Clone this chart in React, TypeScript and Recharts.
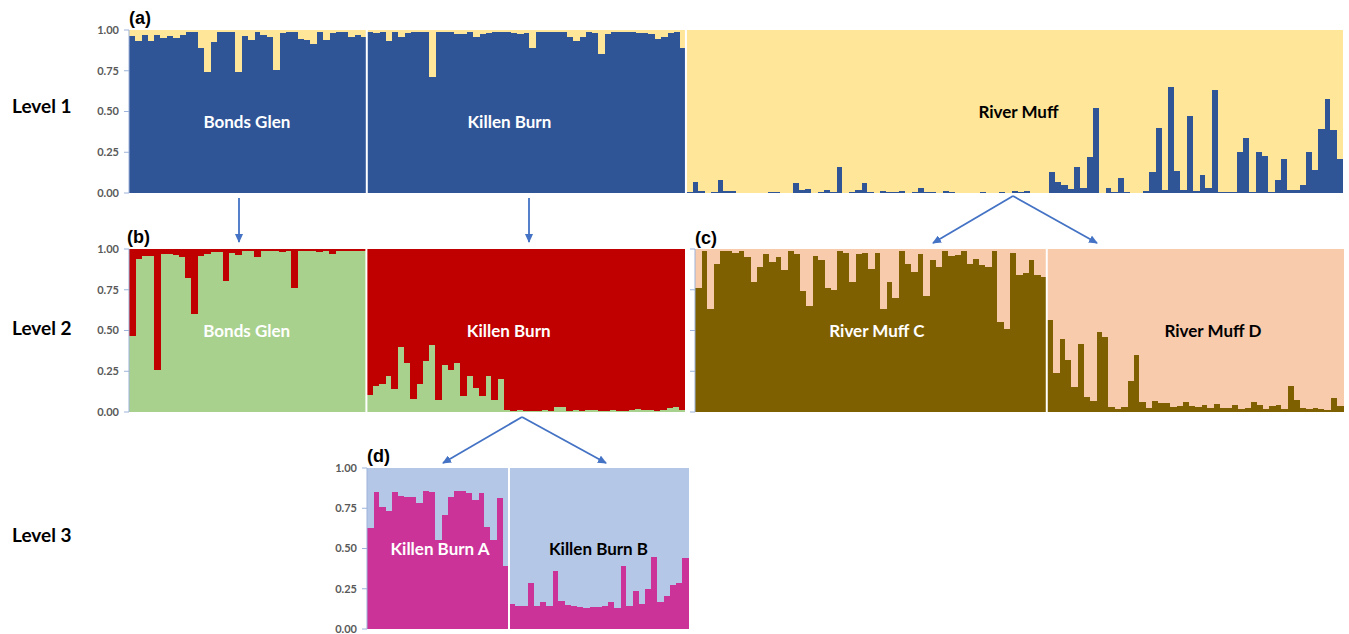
import React from "react";
import { BarChart, Bar, XAxis, YAxis, ReferenceLine } from "recharts";

const TICKS = [0, 0.25, 0.5, 0.75, 1];
const AXIS = "#9DB3DC";
const ARROW = "#4472C4";

// level 1 (a): share of the blue cluster per individual
const bondsGlenL1 = [0.965, 0.93, 0.97, 0.93, 0.97, 0.95, 0.965, 0.95, 0.97, 0.99, 0.985, 0.89, 0.745, 0.925, 0.99, 0.99, 0.99, 0.74, 0.965, 0.94, 0.99, 0.97, 0.96, 0.755, 0.98, 0.985, 0.99, 0.945, 0.94, 0.915, 0.99, 0.94, 0.98, 0.985, 0.985, 0.96, 0.97, 0.96];
const killenBurnL1 = [0.99, 0.98, 0.985, 0.935, 0.985, 0.955, 0.98, 0.99, 0.99, 0.985, 0.71, 0.99, 0.99, 0.99, 0.975, 0.975, 0.99, 0.955, 0.975, 0.98, 0.985, 0.99, 0.99, 0.98, 0.975, 0.98, 0.89, 0.985, 0.985, 0.99, 0.985, 0.985, 0.955, 0.93, 0.955, 0.985, 0.98, 0.855, 0.975, 0.985, 0.99, 0.99, 0.99, 0.98, 0.98, 0.975, 0.945, 0.96, 0.98, 0.99, 0.89];
const riverMuffL1 = [0.005, 0.07, 0.01, 0.002, 0.006, 0.08, 0.015, 0.01, 0.002, 0, 0, 0, 0.002, 0.004, 0.004, 0.002, 0.002, 0.06, 0.02, 0.027, 0.002, 0.006, 0.016, 0.004, 0.16, 0.002, 0.006, 0.016, 0.06, 0.008, 0.002, 0.01, 0.004, 0.006, 0.01, 0.002, 0.006, 0.03, 0.008, 0.004, 0.002, 0.014, 0.008, 0.002, 0, 0, 0.002, 0.004, 0, 0.002, 0.004, 0, 0.015, 0.008, 0.01, 0.002, 0.002, 0.002, 0.13, 0.07, 0.05, 0.027, 0.16, 0.03, 0.22, 0.52, 0.002, 0.03, 0.004, 0.09, 0.006, 0.002, 0.002, 0.01, 0.13, 0.4, 0.02, 0.65, 0.135, 0.016, 0.47, 0.012, 0.11, 0.03, 0.63, 0.006, 0.008, 0.006, 0.25, 0.34, 0.006, 0.25, 0.23, 0.004, 0.08, 0.21, 0.016, 0.02, 0.05, 0.25, 0.14, 0.39, 0.575, 0.385, 0.21];

// level 2 (b): share of the green cluster
const bondsGlenL2 = [0.466, 0.94, 0.955, 0.96, 0.26, 0.97, 0.97, 0.965, 0.95, 0.825, 0.6, 0.957, 0.97, 0.98, 0.98, 0.805, 0.975, 0.965, 0.985, 0.99, 0.95, 0.99, 0.985, 0.985, 0.98, 0.99, 0.76, 0.99, 0.985, 0.985, 0.98, 0.985, 0.97, 0.985, 0.99, 0.985, 0.985, 0.99];
const killenBurnL2 = [0.107, 0.16, 0.17, 0.22, 0.14, 0.4, 0.3, 0.08, 0.17, 0.31, 0.41, 0.076, 0.29, 0.26, 0.3, 0.1, 0.22, 0.15, 0.1, 0.22, 0.076, 0.2, 0.01, 0.005, 0.01, 0.008, 0.005, 0.006, 0.01, 0.006, 0.03, 0.03, 0.008, 0.01, 0.006, 0.015, 0.012, 0.006, 0.008, 0.01, 0.006, 0.008, 0.012, 0.02, 0.015, 0.01, 0.008, 0.012, 0.025, 0.03, 0.01];

// level 2 (c): share of the brown cluster
const riverMuffC = [0.76, 0.99, 0.63, 0.91, 0.99, 0.985, 0.975, 0.985, 0.95, 0.8, 0.89, 0.97, 0.92, 0.95, 0.87, 0.985, 0.97, 0.74, 0.65, 0.96, 0.93, 0.76, 0.75, 0.99, 0.975, 0.8, 0.97, 0.975, 0.88, 0.975, 0.63, 0.8, 0.7, 0.99, 0.91, 0.86, 0.97, 0.71, 0.93, 0.89, 0.99, 0.955, 0.965, 0.99, 0.91, 0.94, 0.9, 0.89, 0.99, 0.55, 0.51, 0.975, 0.84, 0.85, 0.93, 0.84, 0.83];
const riverMuffD = [0.565, 0.24, 0.45, 0.32, 0.155, 0.42, 0.09, 0.07, 0.49, 0.46, 0.03, 0.02, 0.033, 0.19, 0.35, 0.064, 0.027, 0.068, 0.058, 0.058, 0.03, 0.037, 0.06, 0.037, 0.033, 0.043, 0.027, 0.048, 0.022, 0.022, 0.04, 0.018, 0.022, 0.06, 0.04, 0.018, 0.035, 0.043, 0.02, 0.16, 0.072, 0.027, 0.018, 0.027, 0.016, 0.014, 0.087, 0.035];

// level 3 (d): share of the magenta cluster
const killenBurnA = [0.625, 0.85, 0.76, 0.73, 0.85, 0.825, 0.82, 0.82, 0.785, 0.86, 0.85, 0.55, 0.71, 0.82, 0.855, 0.855, 0.845, 0.8, 0.845, 0.635, 0.55, 0.815, 0.39];
const killenBurnB = [0.155, 0.145, 0.145, 0.285, 0.145, 0.165, 0.14, 0.36, 0.175, 0.15, 0.14, 0.135, 0.13, 0.135, 0.135, 0.145, 0.17, 0.13, 0.39, 0.14, 0.235, 0.155, 0.25, 0.45, 0.17, 0.205, 0.275, 0.285, 0.44];

interface Group {
  name: string;
  values: number[];
  labelColor: string;
  dx?: number;
  dy?: number;
}

interface PanelProps {
  left: number;
  top: number;
  width: number;
  height: number;
  margin: { top: number; right: number; bottom: number; left: number };
  yAxisWidth: number;
  groups: Group[];
  colors: [string, string];
  tickLabels?: boolean;
}

// label drawn at an invisible reference line placed in the middle of the group
const groupLabel = (g: Group) => (p: any) => {
  const vb = p.viewBox || { x: 0, y: 0, width: 0, height: 0 };
  return (
    <text
      x={vb.x + (vb.width || 0) / 2 + (g.dx || 0)}
      y={vb.y + vb.height / 2 + (g.dy || 0)}
      textAnchor="middle"
      dominantBaseline="central"
      fill={g.labelColor}
      fontFamily="Lato, sans-serif"
      fontWeight={700}
      fontSize={17}
    >
      {g.name}
    </text>
  );
};

// plain rects, widened a little so neighbouring bars don't leave seams
const barShape = (fill: string) => (p: any) => (
  <rect
    x={p.x}
    y={p.y}
    width={Math.max(p.width + 0.7, 0)}
    height={Math.max(p.height, 0)}
    fill={fill}
    shapeRendering="crispEdges"
  />
);

const StructurePanel: React.FC<PanelProps> = ({
  left,
  top,
  width,
  height,
  margin,
  yAxisWidth,
  groups,
  colors,
  tickLabels = true,
}) => {
  const data = groups.flatMap((g, gi) =>
    g.values.map((v, i) => ({ id: `${gi}-${i}`, q1: v, q2: +(1 - v).toFixed(3) }))
  );

  return (
    <div style={{ position: "absolute", left, top }}>
      <BarChart width={width} height={height} data={data} margin={margin} barCategoryGap={0} barGap={0}>
        <XAxis dataKey="id" type="category" height={0} tick={false} tickLine={false} axisLine={{ stroke: AXIS }} />
        <YAxis
          type="number"
          domain={[0, 1]}
          ticks={TICKS}
          interval={0}
          width={yAxisWidth}
          tickSize={5}
          tickMargin={5}
          axisLine={{ stroke: AXIS }}
          tickLine={{ stroke: AXIS }}
          tickFormatter={(v) => (tickLabels ? Number(v).toFixed(2) : "")}
          tick={{ fontSize: 11, fontWeight: 700, fill: "#595959", fontFamily: "Lato, sans-serif" }}
        />
        <Bar dataKey="q1" stackId="k" fill={colors[0]} shape={barShape(colors[0])} isAnimationActive={false} />
        <Bar dataKey="q2" stackId="k" fill={colors[1]} shape={barShape(colors[1])} isAnimationActive={false} />
        {groups.slice(1).map((g, gi) => (
          <ReferenceLine key={`sep-${g.name}`} x={`${gi + 1}-0`} position="start" stroke="#fff" strokeWidth={2} />
        ))}
        {groups.map((g, gi) => {
          const n = g.values.length;
          return (
            <ReferenceLine
              key={`lab-${g.name}`}
              x={`${gi}-${Math.floor(n / 2)}`}
              position={n % 2 === 0 ? "start" : "middle"}
              stroke="none"
              strokeOpacity={0}
              label={groupLabel(g)}
            />
          );
        })}
      </BarChart>
    </div>
  );
};

const Arrow = ({ x1, y1, x2, y2 }: { x1: number; y1: number; x2: number; y2: number }) => (
  <line x1={x1} y1={y1} x2={x2} y2={y2} stroke={ARROW} strokeWidth={1.8} markerEnd="url(#arrowhead)" />
);

export default function App() {
  const heading = { fontFamily: "'Liberation Sans', Arial, sans-serif", fontWeight: 700, fontSize: 18, fill: "#000" };
  const level = { fontFamily: "Lato, sans-serif", fontWeight: 700, fontSize: 19, fill: "#000" };

  return (
    <div style={{ position: "absolute", left: 0, top: 0, width: 1349, height: 634, background: "#fff", fontFamily: "Lato, sans-serif" }}>
      <StructurePanel
        left={0}
        top={0}
        width={1349}
        height={200}
        margin={{ top: 30, right: 6, bottom: 7, left: 60 }}
        yAxisWidth={69}
        colors={["#2F5597", "#FFE699"]}
        groups={[
          { name: "Bonds Glen", values: bondsGlenL1, labelColor: "#fff", dx: -1, dy: 10 },
          { name: "Killen Burn", values: killenBurnL1, labelColor: "#fff", dx: -17, dy: 10 },
          { name: "River Muff", values: riverMuffL1, labelColor: "#000", dx: 4, dy: 0 },
        ]}
      />
      <StructurePanel
        left={0}
        top={219}
        width={691}
        height={200}
        margin={{ top: 30, right: 6, bottom: 7, left: 60 }}
        yAxisWidth={69}
        colors={["#A9D18E", "#C00000"]}
        groups={[
          { name: "Bonds Glen", values: bondsGlenL2, labelColor: "#fff", dx: -1 },
          { name: "Killen Burn", values: killenBurnL2, labelColor: "#fff", dx: -17 },
        ]}
      />
      <StructurePanel
        left={660}
        top={219}
        width={689}
        height={200}
        margin={{ top: 30, right: 6, bottom: 7, left: 0 }}
        yAxisWidth={35}
        tickLabels={false}
        colors={["#7F6000", "#F8CBAD"]}
        groups={[
          { name: "River Muff C", values: riverMuffC, labelColor: "#fff", dx: 6 },
          { name: "River Muff D", values: riverMuffD, labelColor: "#000", dx: 18 },
        ]}
      />
      <StructurePanel
        left={240}
        top={437}
        width={455}
        height={200}
        margin={{ top: 31, right: 7, bottom: 8, left: 58 }}
        yAxisWidth={69}
        colors={["#CC3399", "#B4C7E7"]}
        groups={[
          { name: "Killen Burn A", values: killenBurnA, labelColor: "#fff", dx: 2 },
          { name: "Killen Burn B", values: killenBurnB, labelColor: "#000" },
        ]}
      />
      <svg width={1349} height={634} style={{ position: "absolute", left: 0, top: 0, pointerEvents: "none" }}>
        <defs>
          <marker id="arrowhead" markerWidth={9} markerHeight={8} refX={8} refY={4} orient="auto" markerUnits="userSpaceOnUse">
            <path d="M0,0 L9,4 L0,8 z" fill={ARROW} />
          </marker>
        </defs>
        <text x={129} y={24} {...heading}>(a)</text>
        <text x={127} y={243} {...heading}>(b)</text>
        <text x={695} y={244} {...heading}>(c)</text>
        <text x={367} y={462} {...heading}>(d)</text>
        <text x={12} y={113} {...level}>Level 1</text>
        <text x={12} y={335} {...level}>Level 2</text>
        <text x={12} y={542} {...level}>Level 3</text>
        <Arrow x1={239} y1={198} x2={239} y2={242} />
        <Arrow x1={529} y1={198} x2={529} y2={242} />
        <Arrow x1={1013} y1={196} x2={933} y2={243} />
        <Arrow x1={1013} y1={196} x2={1097} y2={243} />
        <Arrow x1={522} y1={417} x2={443} y2={463} />
        <Arrow x1={522} y1={417} x2={606} y2={463} />
      </svg>
    </div>
  );
}
